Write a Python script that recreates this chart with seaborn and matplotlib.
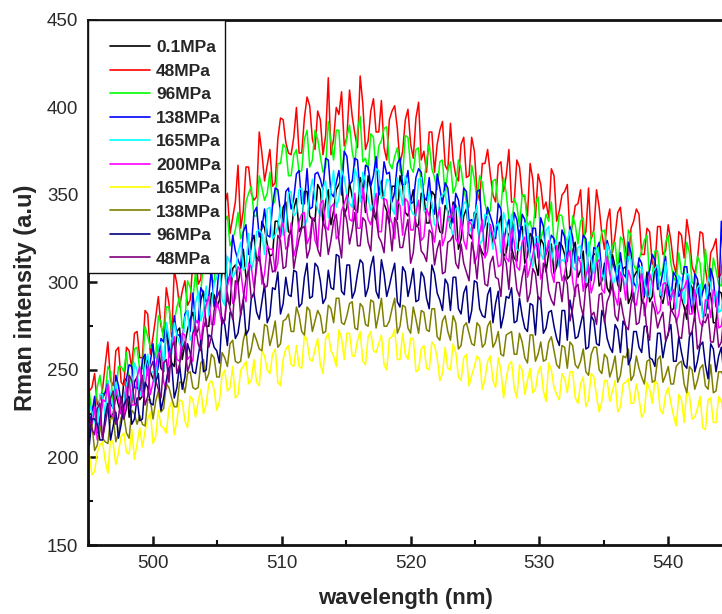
import numpy as np
import pandas as pd
import matplotlib
matplotlib.use("Agg")
import matplotlib.pyplot as plt
from matplotlib.ticker import MultipleLocator
from matplotlib.patches import Rectangle
import seaborn as sns

# wavelength grid (nm): samples alternate between the "s_" and "m_" lists
wl_start = 495.05
wl_step = 0.20625
n_pts = 240

labels = ["0.1MPa", "48MPa", "96MPa", "138MPa", "165MPa", "200MPa",
          "165MPa", "138MPa", "96MPa", "48MPa"]
colors = ["#000000", "#FF0000", "#00FF00", "#0000FF", "#00FFFF", "#FF00FF",
          "#FFFF00", "#808000", "#000080", "#800080"]

# even samples
s_01 = [212,232,220,237,223,236,225,245,232,246, 235,255,245,264,249,265,252,274,265,279,
        270,290,275,294,286,306,290,308,299,319, 305,327,313,331,315,335,326,346,328,348,
        332,352,336,356,334,353,341,356,338,357, 342,360,340,354,336,358,341,355,336,355,
        338,353,333,350,334,350,329,344,331,344, 325,342,325,339,317,334,321,333,315,328,
        314,329,311,328,311,325,306,322,309,321, 302,318,303,318,300,316,298,311,294,309,
        295,309,292,306,288,306,292,306,288,300, 285,299,286,300,281,297,281,294,277,294]
s_48u = [238,248,233,253,244,261,243,263,251,272, 257,282,269,292,270,288,307,286,301,290,
         319,302,335,315,334,318,351,337,367,341, 366,347,386,358,376,357,394,380,373,400,
         374,406,382,398,373,417,382,396,378,410, 385,418,376,398,386,404,370,398,388,375,
         399,371,403,375,386,363,387,367,391,361, 379,360,383,352,368,376,350,367,352,376,
         346,366,349,368,337,356,346,365,335,350, 356,333,345,326,354,330,343,319,342,327,
         343,318,331,342,316,331,311,332,316,333, 311,329,314,326,305,329,308,317,325,305]
s_96u = [238,228,247,237,249,236,252,260,247,263, 251,269,262,281,267,286,278,292,278,297,
         306,295,318,302,320,310,338,325,340,329, 351,338,361,347,363,347,368,377,361,376,
         364,387,370,382,363,392,370,387,374,390, 367,395,371,385,362,381,389,365,377,361,
         383,363,377,356,379,360,369,349,369,355, 365,346,367,347,357,339,358,343,360,336,
         348,332,350,335,345,325,339,346,325,338, 322,338,322,337,315,329,320,330,308,323,
         326,310,327,307,318,327,304,318,307,327, 303,317,305,317,299,311,319,298,307,298]
s_138u = [220,235,221,237,231,247,231,245,252,240, 256,247,265,252,266,257,281,270,282,272,
          278,297,289,308,293,311,299,327,313,329, 316,340,326,342,326,354,340,352,342,362,
          345,365,343,363,353,370,349,364,375,356, 371,350,367,355,372,352,362,346,368,356,
          364,346,365,349,360,339,354,357,340,351, 336,352,336,352,329,343,333,345,323,336,
          340,324,336,317,331,337,316,327,316,330, 312,326,313,327,306,320,323,305,318,307,
          317,303,317,297,311,302,316,296,306,294, 306,292,309,293,305,287,299,308,286,335]
s_165u = [230,221,236,223,236,243,231,242,233,250, 239,259,249,264,250,269,277,265,280,267,
          288,278,298,287,303,290,315,303,317,307, 328,313,330,316,343,327,343,329,352,340,
          354,336,359,342,354,337,364,348,360,345, 365,346,358,341,365,348,359,342,360,344,
          356,339,359,341,352,333,348,352,333,342, 331,345,332,344,324,338,319,334,340,321,
          333,318,334,313,326,317,330,312,324,313, 324,309,320,302,323,305,314,301,318,302,
          311,297,313,298,309,292,305,310,292,300, 291,304,288,304,291,299,283,299,295,284]
s_200 = [215,229,216,232,225,239,225,239,230,246, 235,252,243,259,243,260,269,255,270,258,
         278,266,287,276,289,276,298,288,309,294, 311,297,320,305,319,306,330,319,334,321,
         339,322,337,320,347,330,345,327,345,336, 351,331,345,333,351,329,347,334,347,327,
         346,330,347,326,338,323,343,326,337,325, 337,319,333,315,336,318,327,309,328,312,
         323,307,326,309,322,302,317,306,321,301, 315,301,315,295,309,300,313,294,305,292,
         306,290,302,287,305,290,300,282,299,287, 296,282,297,282,296,277,290,280,291,275]
s_165d = [202,192,207,198,211,196,212,203,216,208, 206,222,208,227,217,228,213,233,221,235,
          223,239,230,244,227,247,238,252,236,252, 242,256,241,258,248,262,241,262,253,264,
          251,267,255,268,248,271,258,273,256,271, 258,272,253,272,260,270,250,269,256,271,
          256,268,250,264,250,264,244,263,250,260, 244,259,247,258,239,255,244,257,234,253,
          240,253,236,251,239,252,232,250,236,248, 237,249,231,246,233,246,226,244,232,244,
          229,243,231,242,223,243,231,242,225,240, 224,236,220,235,223,235,216,234,220,232]
s_138d = [213,204,218,209,222,209,223,214,227,219, 219,233,222,238,228,240,229,243,237,249,
          239,254,244,259,246,260,252,267,254,267, 257,271,262,276,264,278,265,279,272,286,
          272,286,272,284,271,287,277,291,276,288, 274,288,276,290,274,291,275,285,271,287,
          274,286,271,283,272,285,267,281,267,277, 264,277,265,277,263,275,263,272,258,271,
          259,271,257,270,255,266,256,269,253,264, 251,264,251,262,247,263,250,259,246,258,
          247,257,244,258,246,255,243,256,243,252, 242,254,242,252,239,251,241,253,238,249]
s_96d = [207,222,210,224,210,226,219,233,219,234, 222,240,230,248,234,251,234,253,246,260,
         248,267,250,269,261,280,264,281,271,290, 273,294,279,299,281,296,282,303,292,306,
         288,311,292,309,288,307,296,315,293,310, 295,313,292,309,295,313,292,305,289,309,
         292,308,290,303,285,305,290,302,284,303, 282,298,284,300,281,293,277,295,281,291,
         277,291,274,288,270,290,274,284,268,284, 267,281,269,283,263,278,264,279,263,276,
         260,275,257,272,260,275,256,271,257,271, 255,269,253,269,249,264,253,265,249,263]
s_48d = [224,213,231,219,234,219,235,228,244,230, 247,235,255,239,254,243,266,253,266,254,
         275,261,279,269,291,277,294,279,300,291, 307,293,315,297,315,307,324,309,330,317,
         331,314,336,319,335,316,335,324,342,322, 340,321,335,318,337,323,340,318,334,320,
         336,317,331,316,330,310,324,306,324,311, 322,306,323,302,314,298,315,302,315,296,
         310,292,310,294,305,290,308,290,300,289, 299,285,299,281,299,283,293,277,293,281,
         291,275,288,276,289,272,289,274,283,270, 282,269,282,270,282,265,277,266,279,266]

# odd samples
m_01 = [226,214,234,243,225,230,244,223,243,233, 257,249,243,251,273,254,272,256,273,283,
        273,295,275,293,290,308,287,310,308,303, 323,312,335,322,316,335,343,329,342,329,
        352,338,335,353,346,333,353,360,343,349, 340,355,361,339,352,345,334,355,361,340,
        346,332,351,334,352,336,328,341,346,319, 338,328,340,321,315,333,328,338,317,320,
        312,332,315,326,304,322,317,305,323,316, 304,323,307,297,313,317,301,297,316,299,
        308,288,303,310,292,289,311,292,297,284, 302,291,279,297,300,282,292,277,295,284]
m_48u = [240,230,239,266,241,263,241,261,271,257, 284,259,280,275,297,269,299,295,287,312,
         299,330,314,308,333,345,328,346,331,366, 351,349,374,367,355,382,393,374,383,374,
         394,401,376,393,384,373,400,409,383,395, 377,402,381,405,386,377,393,401,368,393,
         379,394,370,363,386,379,392,364,370,358, 383,361,375,347,368,362,346,369,361,346,
         370,350,338,359,362,342,337,361,341,352, 327,344,353,329,325,353,328,335,317,340,
         328,312,335,339,316,329,309,332,318,324, 305,327,336,309,313,328,298,320,303,327]
m_96u = [224,240,236,252,230,252,249,242,262,250, 275,263,257,277,286,272,286,274,301,290,
         291,312,309,300,324,335,321,330,325,346, 355,338,354,351,344,368,379,361,373,363,
         382,366,387,372,366,381,387,363,383,375, 387,369,364,383,378,388,368,372,364,384,
         366,376,354,370,365,353,370,364,351,370, 354,343,359,361,345,341,359,343,351,330,
         344,350,332,328,349,330,335,322,339,328, 315,333,335,317,327,311,329,318,321,306,
         324,330,310,313,324,301,318,304,323,311, 300,305,323,300,315,294,307,314,299,316]
m_138u = [225,218,236,243,228,241,227,253,240,238, 259,255,245,268,277,263,270,265,284,294,
          277,294,292,286,311,322,305,318,309,333, 320,343,331,327,344,353,331,354,348,364,
          345,342,362,359,371,351,357,350,372,358, 370,348,366,361,350,369,363,352,371,356,
          345,360,363,347,343,362,345,354,334,347, 354,335,331,353,333,338,325,342,331,318,
          336,339,321,331,314,332,321,325,310,326, 332,311,314,325,301,319,305,324,312,300,
          305,323,300,314,293,307,313,298,315,290, 303,295,309,283,302,295,285,302,287,306]
m_165u = [226,215,236,244,228,234,228,246,254,235, 252,249,242,266,277,259,270,261,284,271,
          295,284,281,299,309,287,311,306,323,309, 307,329,328,342,325,332,327,351,338,353,
          332,351,348,338,358,353,343,364,350,343, 360,363,348,344,364,349,358,339,353,361,
          342,338,360,341,345,332,350,339,326,343, 346,328,338,322,339,328,332,317,334,339,
          319,322,333,309,326,313,332,320,309,312, 330,307,321,300,313,320,305,322,298,310,
          302,315,289,308,301,292,308,293,312,295, 285,301,305,287,297,280,303,288,283,299]
m_200 = [218,210,233,242,223,233,222,244,230,252, 240,236,252,261,239,262,256,271,256,255,
         278,278,292,276,284,279,304,291,307,289, 309,308,299,321,319,311,334,321,315,335,
         340,326,324,345,332,343,325,341,350,335, 331,354,336,341,329,348,338,325,344,348,
         330,340,324,342,331,336,321,338,344,322, 324,335,311,328,314,333,321,310,314,331,
         309,323,303,316,322,307,324,300,313,305, 318,292,311,304,294,311,296,315,298,287,
         302,307,289,298,281,305,289,284,300,291, 277,295,301,282,285,275,290,296,274,286]
m_165d = [190,203,209,191,208,203,214,202,199,217, 215,226,212,218,214,232,221,232,217,233,
          232,225,242,239,232,250,240,234,250,255, 244,243,261,250,259,243,256,264,252,252,
          270,256,262,253,268,261,252,268,271,258, 267,255,269,261,265,253,268,273,256,259,
          268,249,262,251,266,257,248,251,265,246, 257,241,252,256,245,258,240,250,245,255,
          234,250,244,237,249,238,254,240,233,245, 249,234,242,229,248,235,232,244,238,226,
          242,245,231,234,226,239,244,227,236,231, 218,233,239,222,228,217,233,220,235,223]
m_138d = [219,207,211,208,223,214,224,211,225,224, 218,233,232,226,242,234,229,243,248,240,
          240,256,248,257,246,257,265,255,255,273, 262,267,261,275,270,263,278,282,272,281,
          270,284,278,281,272,285,291,277,281,289, 273,286,275,289,282,275,278,291,275,286,
          271,279,284,273,285,269,278,272,281,262, 275,271,264,275,265,278,266,259,270,272,
          259,266,254,270,259,255,266,261,251,263, 266,253,255,249,259,263,248,257,251,243,
          258,262,247,251,242,256,244,258,247,242, 252,255,237,250,244,253,239,237,249,246]
m_96d = [222,219,210,231,218,211,230,235,222,221, 243,231,243,227,244,254,240,239,265,249,
         258,249,270,263,254,276,283,268,282,270, 291,283,289,277,297,306,288,293,307,286,
         303,291,311,301,291,297,316,295,310,291, 305,311,297,315,291,305,298,311,286,306,
         299,289,306,291,310,294,284,299,303,285, 294,277,301,285,280,297,288,274,292,297,
         278,281,272,287,292,271,283,275,264,284, 290,268,276,262,281,265,284,268,260,273,
         278,253,272,263,275,257,252,271,266,276, 255,260,251,272,255,266,245,262,258,246]
m_48d = [216,228,211,228,238,223,222,247,231,239, 230,251,244,234,256,263,248,262,249,271,
         265,274,263,284,295,278,285,301,281,302, 291,313,305,298,306,327,308,326,308,325,
         332,319,337,315,330,324,339,314,335,330, 321,337,323,343,326,317,333,337,320,329,
         311,334,318,312,328,319,305,323,327,308, 311,301,316,321,299,311,303,292,311,317,
         296,303,289,308,291,311,295,287,300,304, 278,297,287,299,281,276,294,289,299,278,
         282,273,294,277,288,267,284,279,267,285, 279,268,287,272,262,278,282,266,263,282]

even_series = [s_01, s_48u, s_96u, s_138u, s_165u, s_200, s_165d, s_138d, s_96d, s_48d]
odd_series = [m_01, m_48u, m_96u, m_138u, m_165u, m_200, m_165d, m_138d, m_96d, m_48d]

wavelength = wl_start + wl_step * np.arange(n_pts)

sns.set_style("ticks")
plt.rcParams["font.family"] = ["Liberation Sans", "DejaVu Sans"]

fig = plt.figure(figsize=(7.22, 6.14), dpi=100)
ax = fig.add_axes([88 / 722, 69 / 614, (722 - 88) / 722, 525 / 614])

for lab, col, ev, od in zip(labels, colors, even_series, odd_series):
    vals = np.column_stack([ev, od]).ravel()
    df = pd.DataFrame({"wavelength": wavelength, "intensity": vals})
    sns.lineplot(data=df, x="wavelength", y="intensity", color=col,
                 linewidth=1.1, label=lab, ax=ax, estimator=None, sort=False)

ax.set_xlim(494.95, 544.19)
ax.set_ylim(150, 450)
ax.xaxis.set_major_locator(MultipleLocator(10))
ax.xaxis.set_minor_locator(MultipleLocator(5))
ax.yaxis.set_major_locator(MultipleLocator(50))
ax.yaxis.set_minor_locator(MultipleLocator(25))
ax.tick_params(which="major", direction="in", length=6.5, width=1.8, labelsize=13.5,
               pad=7, labelcolor="#2a2a2a", color="#111111")
ax.tick_params(which="minor", direction="in", length=3.5, width=1.5, color="#111111")
ax.tick_params(axis="x", which="both", top=False)
ax.tick_params(axis="y", which="both", right=False)

for side in ["left", "bottom", "top"]:
    ax.spines[side].set_linewidth(2.0)
    ax.spines[side].set_color("#111111")
ax.spines["right"].set_visible(False)

ax.set_xlabel("wavelength (nm)", fontsize=16, fontweight="bold", labelpad=12)
ax.set_ylabel("Rman intensity (a.u)", fontsize=17, fontweight="bold", labelpad=7)
ax.yaxis.label.set_y(0.47)

# legend frame (white box in the upper-left corner)
frame = Rectangle((0.0, 1 - 253 / 525), 137 / 634, 253 / 525, transform=ax.transAxes,
                  facecolor="white", edgecolor="#111111", linewidth=1.0, zorder=4)
ax.add_patch(frame)

leg = ax.legend(loc="upper left", bbox_to_anchor=(22 / 634, 1 - 20 / 525),
                borderaxespad=0.0, borderpad=0.0, frameon=False,
                handlelength=2.3, labelspacing=0.48, handletextpad=0.35,
                prop={"weight": "bold", "size": 12.5})
leg.set_zorder(5)
for line in leg.get_lines():
    line.set_linewidth(1.2)

fig.savefig("out.png", dpi=100)
